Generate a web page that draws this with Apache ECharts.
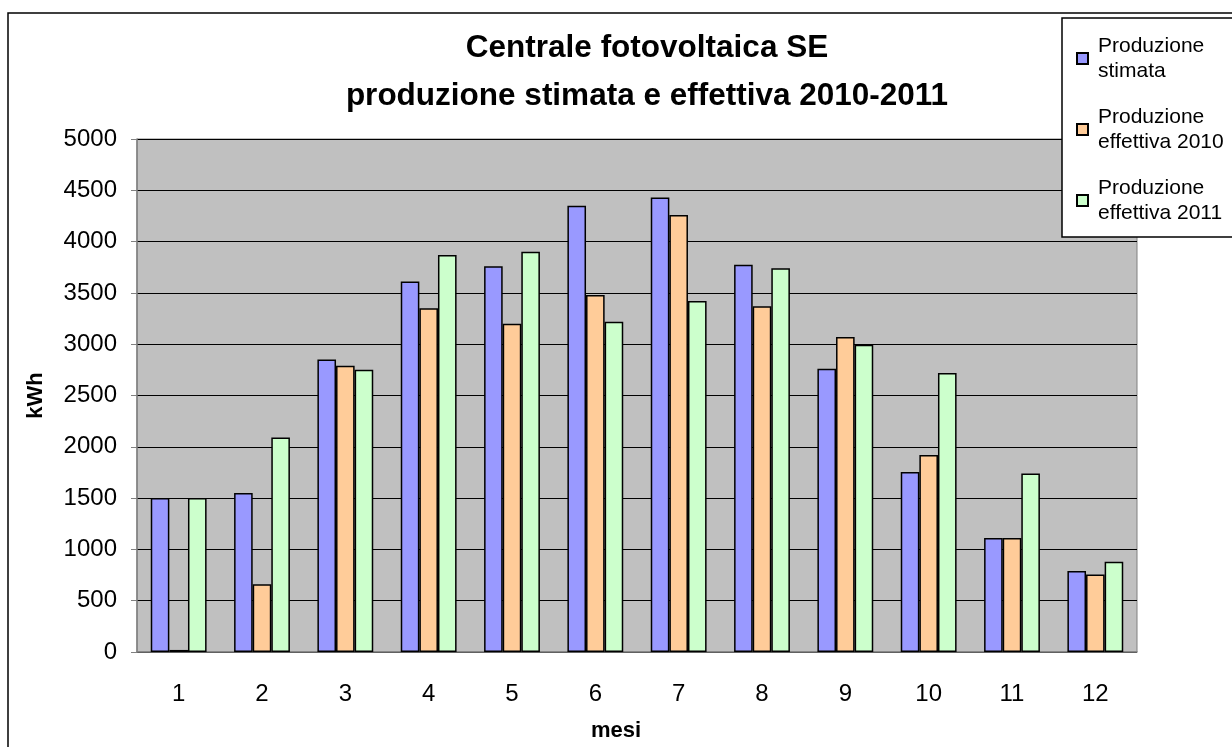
<!DOCTYPE html>
<html>
<head>
<meta charset="utf-8">
<title>Centrale fotovoltaica SE</title>
<script src="https://cdn.jsdelivr.net/npm/echarts@6/dist/echarts.min.js"></script>
<style>
  html, body { margin: 0; padding: 0; background: #fff; }
  #chart { width: 1232px; height: 747px; }
</style>
</head>
<body>
<div id="chart"></div>
<script>
const mesi = ['1', '2', '3', '4', '5', '6', '7', '8', '9', '10', '11', '12'];
const stimata = [1500, 1550, 2850, 3610, 3760, 4350, 4430, 3775, 2760, 1755, 1110, 790];
const effettiva2010 = [20, 660, 2790, 3350, 3200, 3480, 4260, 3370, 3070, 1920, 1110, 755];
const effettiva2011 = [1500, 2090, 2750, 3870, 3900, 3220, 3420, 3740, 2995, 2720, 1740, 880];

const font = "'Liberation Sans', Arial, sans-serif";

function barSeries (name, color, data) {
  return {
    name: name,
    type: 'bar',
    barGap: '0%',
    barCategoryGap: '33%',
    itemStyle: { color: color, borderColor: '#000', borderWidth: 1.5 },
    data: data
  };
}

const chart = echarts.init(document.getElementById('chart'));
chart.setOption({
  animation: false,
  textStyle: { fontFamily: font },
  graphic: [
    // cornice esterna
    { type: 'rect', z: -10, shape: { x: 8, y: 13, width: 1400, height: 900 },
      style: { fill: 'none', stroke: '#000', lineWidth: 1.5 } },
    // riquadro legenda, sopra l'area del grafico
    { type: 'rect', z: 3, shape: { x: 1062, y: 18, width: 200, height: 219 },
      style: { fill: '#fff', stroke: '#000', lineWidth: 1.5 } }
  ],
  title: {
    text: 'Centrale fotovoltaica SE\nproduzione stimata e effettiva 2010-2011',
    left: 642,
    top: 19,
    textAlign: 'center',
    textStyle: { fontFamily: font, fontSize: 31.5, fontWeight: 'bold', color: '#000', lineHeight: 48 }
  },
  legend: {
    orient: 'vertical',
    left: 1076,
    top: 21,
    padding: 0,
    itemGap: -4,
    itemWidth: 11,
    itemHeight: 11,
    icon: 'rect',
    z: 5,
    formatter: name => name.replace(' ', '\n'),
    textStyle: { fontFamily: font, fontSize: 21, color: '#000', lineHeight: 25, padding: [25, 0, 0, 5] }
  },
  grid: {
    left: 137,
    right: 95,
    top: 139,
    bottom: 94,
    show: true,
    backgroundColor: '#c0c0c0',
    borderColor: '#808080',
    borderWidth: 1
  },
  xAxis: {
    type: 'category',
    data: mesi,
    name: 'mesi',
    nameLocation: 'middle',
    nameGap: 68,
    nameTextStyle: { fontFamily: font, fontSize: 22, fontWeight: 'bold', color: '#000', padding: [0, 42, 0, 0] },
    axisLine: { lineStyle: { color: '#808080', width: 1.5 } },
    axisTick: { length: 8, lineStyle: { color: '#808080' } },
    axisLabel: { fontFamily: font, fontSize: 24, color: '#000', margin: 30 }
  },
  yAxis: {
    type: 'value',
    min: 0,
    max: 5000,
    interval: 500,
    name: 'kWh',
    nameLocation: 'middle',
    nameGap: 90,
    nameTextStyle: { fontFamily: font, fontSize: 22, fontWeight: 'bold', color: '#000' },
    axisLine: { show: true, lineStyle: { color: '#808080', width: 1.5 } },
    axisTick: { show: true, length: 6, lineStyle: { color: '#808080' } },
    axisLabel: { fontFamily: font, fontSize: 24, color: '#000', margin: 20, formatter: v => String(v) },
    splitLine: { lineStyle: { color: '#000', width: 1 } }
  },
  series: [
    barSeries('Produzione stimata', '#9999ff', stimata),
    barSeries('Produzione effettiva 2010', '#ffcc99', effettiva2010),
    barSeries('Produzione effettiva 2011', '#ccffcc', effettiva2011)
  ]
});
</script>
</body>
</html>
